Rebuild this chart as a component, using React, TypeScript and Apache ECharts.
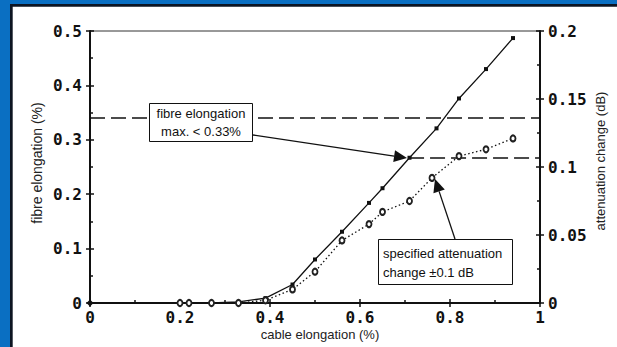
import React, { useEffect, useRef } from "react";
import * as echarts from "echarts";

// cable elongation (%) vs fibre elongation (%) – solid line, left axis
const cableX = [0, 0.2, 0.22, 0.27, 0.33, 0.39, 0.45, 0.5, 0.56, 0.62, 0.65, 0.71, 0.77, 0.82, 0.88, 0.94];
const fibreElongation = [0, 0, 0, 0, 0.002, 0.009, 0.034, 0.08, 0.131, 0.184, 0.211, 0.267, 0.321, 0.376, 0.43, 0.487];

// cable elongation (%) vs attenuation change (dB) – dotted line, right axis
const attenX = [0.2, 0.22, 0.27, 0.33, 0.39, 0.45, 0.5, 0.56, 0.62, 0.65, 0.71, 0.76, 0.82, 0.88, 0.94];
const attenuationChange = [0, 0, 0, 0, 0.002, 0.01, 0.023, 0.046, 0.058, 0.067, 0.075, 0.092, 0.108, 0.113, 0.121];

// reference lines
const fibreLimit = 0.34;
const attenLimitStart = [0.709, 0.267];
const attenLimitEnd = [1, 0.267];

const annot1 = ["fibre elongation", "max. < 0.33%"];
const annot2 = ["specified attenuation", "change \u00b10.1 dB"];

const TICK_FONT = { fontFamily: "DejaVu Sans Mono", fontWeight: "bold" as const, fontSize: 16, color: "#111" };
const SANS = "Liberation Sans, Arial, sans-serif";

function arrow(x1: number, y1: number, x2: number, y2: number, len = 13, hw = 6): any[] {
  const dx = x2 - x1, dy = y2 - y1;
  const d = Math.sqrt(dx * dx + dy * dy);
  const ux = dx / d, uy = dy / d;
  const bx = x2 - ux * len, by = y2 - uy * len;
  const px = -uy, py = ux;
  return [
    { type: "line", shape: { x1, y1, x2: bx, y2: by }, style: { stroke: "#111", lineWidth: 1.3 }, z: 10 },
    {
      type: "polygon",
      shape: { points: [[x2, y2], [bx + px * hw, by + py * hw], [bx - px * hw, by - py * hw]] },
      style: { fill: "#111" },
      z: 10,
    },
  ];
}

export default function App() {
  const ref = useRef<HTMLDivElement>(null);
  useEffect(() => {
    if (!ref.current) return;
    const chart = echarts.init(ref.current, undefined, { renderer: "svg" });
    const solidData = cableX.map((x, i) => [x, fibreElongation[i]]);
    const dottedData = attenX.map((x, i) => [x, attenuationChange[i]]);

    const mainTick = { show: true, inside: true, length: 4, lineStyle: { color: "#111", width: 1.5 } };
    const mainMinor = { show: true, length: 3, splitNumber: 2, lineStyle: { color: "#111", width: 1.5 } };
    const outTick = { show: true, inside: false, length: 4, lineStyle: { color: "#111", width: 1.5 } };

    chart.setOption({
      animation: false,
      backgroundColor: "#ffffff",
      grid: {
        left: 90,
        right: 77,
        top: 31,
        bottom: 44,
        show: true,
        borderColor: "#333",
        borderWidth: 1,
        backgroundColor: "#fff",
      },
      xAxis: [
        {
          type: "value",
          min: 0,
          max: 1,
          interval: 0.2,
          axisLine: { show: true, onZero: false, lineStyle: { color: "#111", width: 2 } },
          axisTick: mainTick,
          minorTick: mainMinor,
          splitLine: { show: false },
          minorSplitLine: { show: false },
          axisLabel: { ...TICK_FONT, margin: 6 },
        },
        {
          type: "value",
          min: 0,
          max: 1,
          interval: 0.2,
          position: "bottom",
          axisLine: { show: false, onZero: false },
          axisTick: outTick,
          splitLine: { show: false },
          axisLabel: { show: false },
        },
      ],
      yAxis: [
        {
          type: "value",
          min: 0,
          max: 0.5,
          interval: 0.1,
          position: "left",
          axisLine: { show: true, onZero: false, lineStyle: { color: "#111", width: 2 } },
          axisTick: mainTick,
          minorTick: mainMinor,
          splitLine: { show: false },
          minorSplitLine: { show: false },
          axisLabel: { ...TICK_FONT, margin: 8 },
        },
        {
          type: "value",
          min: 0,
          max: 0.2,
          interval: 0.05,
          position: "right",
          axisLine: { show: true, onZero: false, lineStyle: { color: "#111", width: 2 } },
          axisTick: mainTick,
          minorTick: mainMinor,
          splitLine: { show: false },
          minorSplitLine: { show: false },
          axisLabel: { ...TICK_FONT, margin: 8 },
        },
        {
          type: "value",
          min: 0,
          max: 0.5,
          interval: 0.1,
          position: "left",
          axisLine: { show: false, onZero: false },
          axisTick: outTick,
          splitLine: { show: false },
          axisLabel: { show: false },
        },
        {
          type: "value",
          min: 0,
          max: 0.2,
          interval: 0.05,
          position: "right",
          axisLine: { show: false, onZero: false },
          axisTick: outTick,
          splitLine: { show: false },
          axisLabel: { show: false },
        },
      ],
      series: [
        {
          type: "line",
          name: "fibre elongation",
          xAxisIndex: 0,
          yAxisIndex: 0,
          data: solidData,
          symbol: (v: number[]) => (v[0] === 0 ? "diamond" : "rect"),
          symbolSize: (v: number[]) => (v[0] === 0 ? 7 : 4),
          showAllSymbol: true,
          itemStyle: { color: "#111" },
          lineStyle: { color: "#111", width: 1.3 },
          z: 5,
          markLine: {
            silent: true,
            symbol: "none",
            label: { show: false },
            lineStyle: { color: "#111", width: 1.6, type: [15, 6] },
            data: [
              [{ coord: [0, fibreLimit] }, { coord: [1, fibreLimit] }],
              [{ coord: attenLimitStart }, { coord: attenLimitEnd }],
            ],
          },
        },
        {
          type: "line",
          name: "attenuation change",
          xAxisIndex: 0,
          yAxisIndex: 1,
          data: dottedData,
          symbol: "emptyCircle",
          symbolSize: [5, 6],
          showAllSymbol: true,
          itemStyle: { color: "#222", borderWidth: 1 },
          lineStyle: { color: "#111", width: 1.3, type: [1.5, 2.5] },
          z: 6,
        },
      ],
      graphic: [
        // blue frame
        { type: "rect", shape: { x: 0, y: 0, width: 617, height: 4 }, style: { fill: "#0A6FC2" }, silent: true },
        { type: "rect", shape: { x: 0, y: 0, width: 10, height: 347 }, style: { fill: "#0A6FC2" }, silent: true },
        { type: "rect", shape: { x: 10, y: 4, width: 607, height: 2.7 }, style: { fill: "#0d1522" }, silent: true },
        { type: "rect", shape: { x: 10, y: 4, width: 2.7, height: 343 }, style: { fill: "#0d1522" }, silent: true },
        // axis names
        {
          type: "text",
          x: 37,
          y: 163,
          rotation: Math.PI / 2,
          style: { text: "fibre elongation (%)", fontFamily: SANS, fontSize: 14, fill: "#222", align: "center", verticalAlign: "middle" },
        },
        {
          type: "text",
          x: 600,
          y: 161,
          rotation: Math.PI / 2,
          style: { text: "attenuation change (dB)", fontFamily: SANS, fontSize: 13, fill: "#222", align: "center", verticalAlign: "middle" },
        },
        {
          type: "text",
          x: 320,
          y: 334,
          style: { text: "cable elongation (%)", fontFamily: SANS, fontSize: 13, fill: "#222", align: "center", verticalAlign: "middle" },
        },
        // annotation 1
        { type: "rect", shape: { x: 149.5, y: 103.5, width: 103, height: 38 }, style: { fill: "#fff", stroke: "#111", lineWidth: 1 }, z: 10 },
        {
          type: "text",
          x: 201,
          y: 113,
          z: 11,
          style: { text: annot1[0], fontFamily: SANS, fontSize: 13, fill: "#111", align: "center", verticalAlign: "middle" },
        },
        {
          type: "text",
          x: 201,
          y: 131,
          z: 11,
          style: { text: annot1[1], fontFamily: SANS, fontSize: 13, fill: "#111", align: "center", verticalAlign: "middle" },
        },
        ...arrow(253, 135, 407, 158),
        // annotation 2
        { type: "rect", shape: { x: 378.5, y: 239.5, width: 134, height: 45 }, style: { fill: "#fff", stroke: "#111", lineWidth: 1 }, z: 10 },
        {
          type: "text",
          x: 383,
          y: 253,
          z: 11,
          style: { text: annot2[0], fontFamily: SANS, fontSize: 13, fill: "#111", align: "left", verticalAlign: "middle" },
        },
        {
          type: "text",
          x: 383,
          y: 272,
          z: 11,
          style: { text: annot2[1], fontFamily: SANS, fontSize: 13, fill: "#111", align: "left", verticalAlign: "middle" },
        },
        ...arrow(455, 239, 435, 179),
      ],
    });
    return () => chart.dispose();
  }, []);
  return (
    <div
      ref={ref}
      style={{ position: "fixed", left: 0, top: 0, width: 617, height: 347, background: "#fff" }}
    />
  );
}
